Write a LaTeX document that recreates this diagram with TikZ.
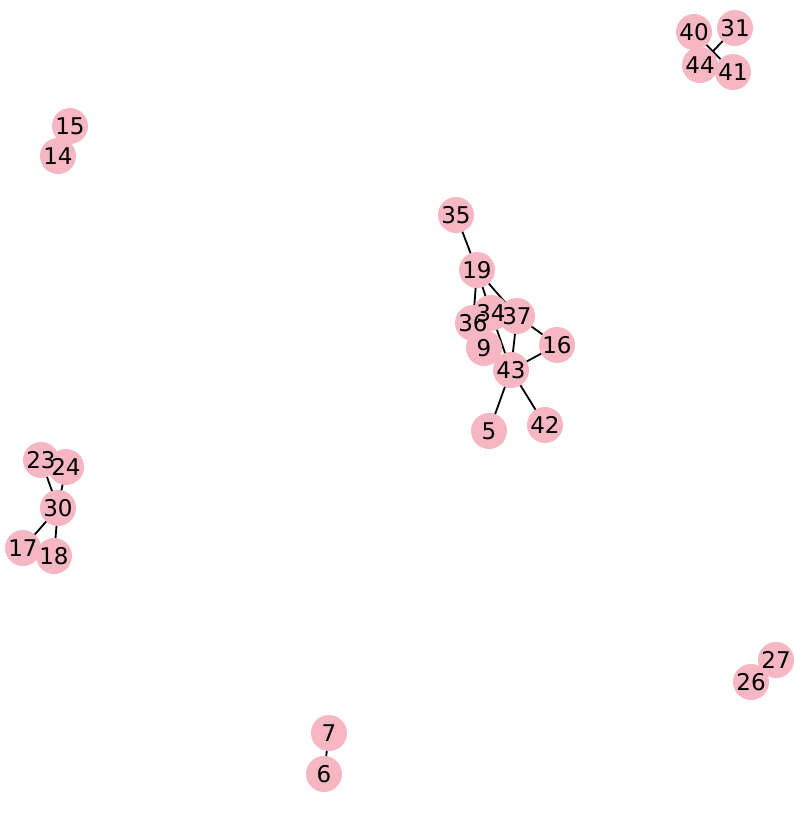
\documentclass[tikz,border=0pt]{standalone}
\usepackage{fontspec}
\setmainfont{DejaVu Sans}
\usepackage{xcolor}
\usepackage{tikz}
\usetikzlibrary{positioning, backgrounds}
\definecolor{nodepink}{RGB}{246, 182, 194}

\begin{document}
\begin{tikzpicture}[
  x=1pt, y=-1pt,
  vert/.style={circle, fill=nodepink, minimum size=36pt, inner sep=0pt},
  lbl/.style={inner sep=0pt, font=\fontsize{23}{23}\selectfont},
  edge/.style={line width=1.8pt, black}
]
\useasboundingbox (0,0) rectangle (794,828);

% Top left pair
\node[vert] (v15) at (70,126) {};
\node[vert] (v14) at (58,156) {};

% Top right cluster
\node[vert] (v40) at (694,32) {};
\node[vert] (v31) at (735,28) {};
\node[vert] (v44) at (700,65) {};
\node[vert] (v41) at (733,72) {};

% Central cluster
\node[vert] (v35) at (456,215) {};
\node[vert] (v19) at (477,270) {};
\node[vert] (v34) at (491,313) {};
\node[vert] (v36) at (473,323) {};
\node[vert] (v9) at (484,348) {};
\node[vert] (v37) at (517,316) {};
\node[vert] (v16) at (557,345) {};
\node[vert] (v43) at (511,370) {};
\node[vert] (v5) at (489,431) {};
\node[vert] (v42) at (545,425) {};

% Left cluster
\node[vert] (v23) at (41,460) {};
\node[vert] (v24) at (66,467) {};
\node[vert] (v30) at (58,508) {};
\node[vert] (v17) at (23,548) {};
\node[vert] (v18) at (54,556) {};

% Bottom right pair
\node[vert] (v26) at (751,682) {};
\node[vert] (v27) at (776,660) {};

% Bottom pair
\node[vert] (v7) at (329,733) {};
\node[vert] (v6) at (324,774) {};

% Labels on top of all circles
\foreach \n in {15,14,40,31,44,41,35,19,34,36,9,37,16,43,5,42,23,24,30,17,18,26,27,7,6}
  \node[lbl] (t\n) at (v\n) {\n};

% Edges
\begin{scope}[on background layer]
\draw[edge] (v44.center) -- (v31.center);
\draw[edge] (v40.center) -- (v41.center);
\draw[edge] (v35.center) -- (v19.center);
\draw[edge] (v19.center) -- (v36.center);
\draw[edge] (v19.center) -- (v34.center);
\draw[edge] (v19.center) -- (v37.center);
\draw[edge] (v34.center) -- (v43.center);
\draw[edge] (v37.center) -- (v43.center);
\draw[edge] (v37.center) -- (v16.center);
\draw[edge] (v16.center) -- (v43.center);
\draw[edge] (v43.center) -- (v5.center);
\draw[edge] (v43.center) -- (v42.center);
\draw[edge] (v23.center) -- (v30.center);
\draw[edge] (v24.center) -- (v30.center);
\draw[edge] (v30.center) -- (v17.center);
\draw[edge] (v30.center) -- (v18.center);
\draw[edge] (v7.center) -- (v6.center);
\end{scope}

\end{tikzpicture}
\end{document}
